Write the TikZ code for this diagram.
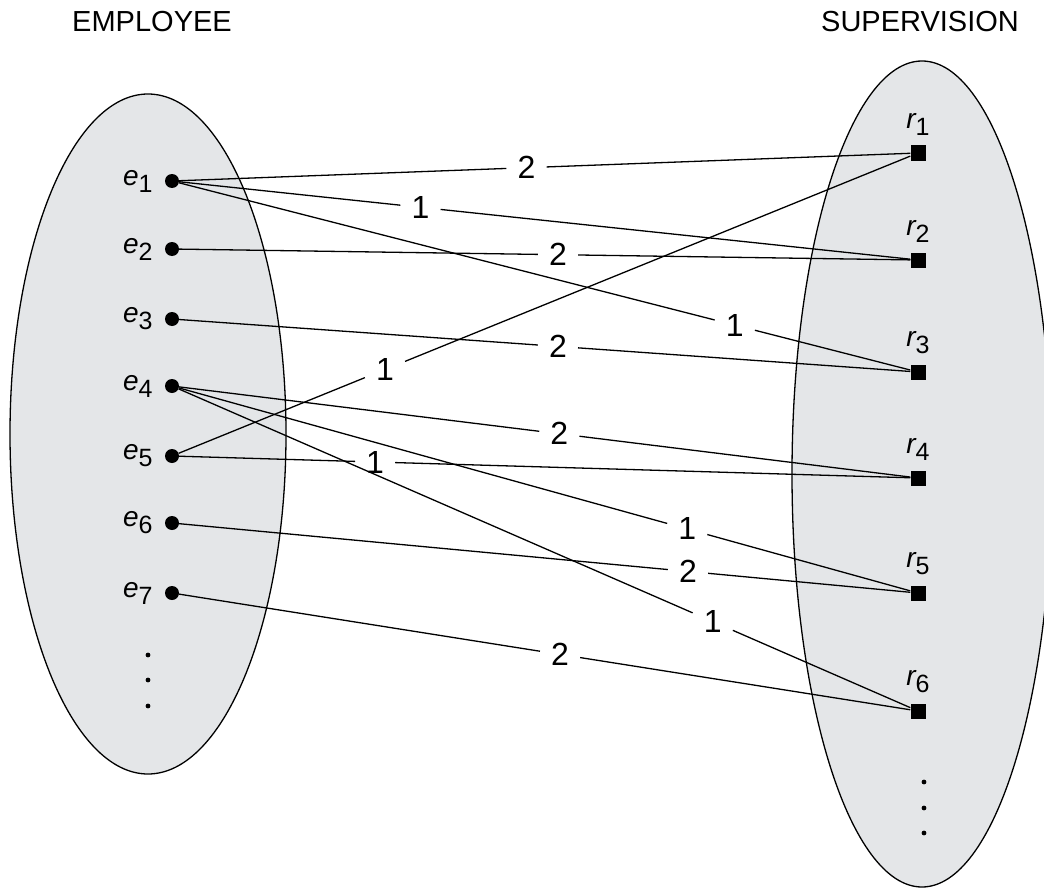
\documentclass[tikz,border=0pt]{standalone}
\usepackage{fontspec}
\setmainfont{Liberation Sans}
\definecolor{setfill}{RGB}{228,230,232}
% element name with an upright, lowered index
\newcommand{\elem}[2]{{\itshape #1}\raisebox{-7pt}{\fontsize{25}{25}\selectfont #2}}
\begin{document}
\begin{tikzpicture}[x=1pt,y=-1pt,
  setshape/.style={draw=black, line width=1.3pt, fill=setfill},
  edot/.style={circle, fill=black, inner sep=0pt, minimum size=14pt},
  rsq/.style={rectangle, fill=black, inner sep=0pt, minimum size=15pt},
  link/.style={line width=1.3pt},
  wt/.style={font=\fontsize{32}{32}\selectfont, inner xsep=11pt, inner ysep=0pt},
  elbl/.style={font=\fontsize{28}{28}\selectfont, inner sep=0pt},
  title/.style={font=\fontsize{29}{29}\selectfont, inner sep=0pt}]
\useasboundingbox (0,0) rectangle (1044,888);

% the two sets
\draw[setshape] (148,434) ellipse [x radius=138, y radius=340];
\draw[setshape] (922,474) ellipse [x radius=130, y radius=413];

\node[title] (emp) at (152,22) {EMPLOYEE};
\node[title] (sup) at (920,22) {SUPERVISION};

% employees
\foreach \i/\y in {1/181, 2/249, 3/319, 4/386, 5/456, 6/523, 7/593} {
  \node[edot] (e\i) at (172,\y) {};
  \node[elbl, anchor=east] (e\i l) at ([xshift=-12pt]e\i.west) {\elem{e}{\i}};
}
% supervision instances
\foreach \i/\y in {1/153, 2/260, 3/372, 4/478, 5/593, 6/711} {
  \node[rsq] (r\i) at (918,\y) {};
  \node[elbl, anchor=south] (r\i l) at ([yshift=10pt]r\i.north) {\elem{r}{\i}};
}

% continuation dots
\foreach \y in {655, 680, 706} \fill (148,\y) circle (2.4pt);
\foreach \y in {782, 808, 833} \fill (924,\y) circle (2.4pt);

% role links with their numbers
\foreach \a/\b/\p/\t/\n in {
  e1/r1/.475/2/w1, e1/r2/.33/1/w2, e1/r3/.76/1/w3,
  e2/r2/.518/2/w4, e3/r3/.518/2/w5,
  e4/r4/.52/2/w6, e4/r5/.695/1/w7, e4/r6/.73/1/w8,
  e5/r1/.282/1/w9, e5/r4/.268/1/w10,
  e6/r5/.696/2/w11, e7/r6/.521/2/w12} {
  \path (\a) -- node[wt, pos=\p] (\n) {\t} (\b);
  \draw[link] (\a) -- (\n) -- (\b);
}
\end{tikzpicture}
\end{document}
